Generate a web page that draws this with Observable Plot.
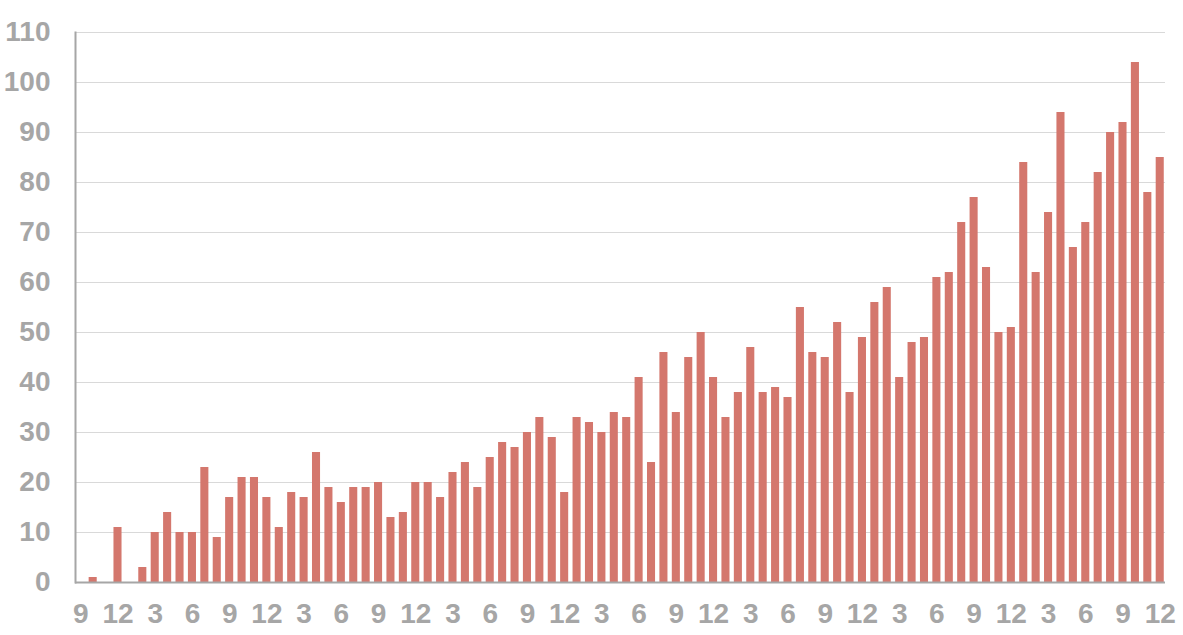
<!DOCTYPE html>
<html>
<head>
<meta charset="utf-8">
<script src="https://cdn.jsdelivr.net/npm/d3@7"></script>
<script src="https://cdn.jsdelivr.net/npm/@observablehq/plot@0.6"></script>
<style>
  html, body { margin: 0; padding: 0; background: #ffffff; }
  #chart svg { display: block; }
</style>
</head>
<body>
<div id="chart"></div>
<script>
// Monthly values, starting in month 9 and ending in month 12 seven years later (88 bars)
const startMonth = 9;
const values = [
  0, 1, 0, 11, 0, 3, 10, 14, 10, 10, 23, 9,
  17, 21, 21, 17, 11, 18, 17, 26, 19, 16, 19, 19,
  20, 13, 14, 20, 20, 17, 22, 24, 19, 25, 28, 27,
  30, 33, 29, 18, 33, 32, 30, 34, 33, 41, 24, 46,
  34, 45, 50, 41, 33, 38, 47, 38, 39, 37, 55, 46,
  45, 52, 38, 49, 56, 59, 41, 48, 49, 61, 62, 72,
  77, 63, 50, 51, 84, 62, 74, 94, 67, 72, 82, 90,
  92, 104, 78, 85
];
const yTicks = [0, 10, 20, 30, 40, 50, 60, 70, 80, 90, 100, 110];
const tickMonths = [3, 6, 9, 12];

const data = values.map((v, i) => ({
  i,
  month: ((startMonth - 1 + i) % 12) + 1,
  v
}));
const xTicks = data.filter(d => tickMonths.includes(d.month)).map(d => d.i);

const textColor = "#a6a6a6";

const chart = Plot.plot({
  width: 1183,
  height: 635,
  marginLeft: 75,
  marginRight: 18,
  marginTop: 32,
  marginBottom: 53,
  style: {
    fontFamily: "'Liberation Sans', Arial, sans-serif",
    fontSize: "28px",
    fontWeight: "bold",
    color: textColor,
    background: "#ffffff"
  },
  x: { type: "band", domain: data.map(d => d.i), paddingInner: 0.35, paddingOuter: 0.1 },
  y: { domain: [0, 110] },
  marks: [
    Plot.gridY(yTicks.filter(t => t > 0), { stroke: "#d9d9d9", strokeOpacity: 1, strokeWidth: 1 }),
    Plot.barY(data, { x: "i", y: "v", fill: "#d4776d" }),
    Plot.axisY({ ticks: yTicks, tickSize: 0, tickPadding: 25, fill: textColor, fontSize: 28, fontWeight: "bold", label: null }),
    Plot.axisX({ ticks: xTicks, tickSize: 0, tickPadding: 21, tickFormat: i => String(data[i].month), fill: textColor, fontSize: 28, fontWeight: "bold", label: null }),
    Plot.ruleY([0], { stroke: "#a6a6a6", strokeWidth: 2 }),
    Plot.frame({ anchor: "left", stroke: "#a6a6a6", strokeWidth: 2 })
  ]
});
document.getElementById("chart").appendChild(chart);
</script>
</body>
</html>
